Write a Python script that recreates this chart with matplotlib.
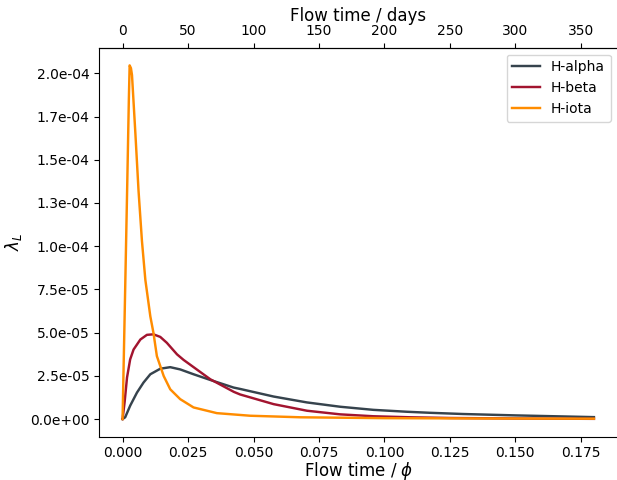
import numpy as np
import matplotlib
matplotlib.use('Agg')
import matplotlib.pyplot as plt
from matplotlib.ticker import FormatStrFormatter, MultipleLocator

# flow time (phi) and lambda_L values
phi_alpha = [0.0, 0.001, 0.0029, 0.0055, 0.008, 0.0106, 0.0144, 0.0182, 0.022, 0.0271,
             0.0335, 0.0424, 0.0449, 0.0577, 0.0704, 0.0831, 0.0958, 0.1086, 0.1174,
             0.13, 0.15, 0.165, 0.18]
lam_alpha = [0.0, 1.0e-6, 7.7e-6, 1.53e-5, 2.11e-5, 2.59e-5, 2.91e-5, 3.0e-5, 2.87e-5, 2.59e-5,
             2.26e-5, 1.82e-5, 1.74e-5, 1.30e-5, 9.6e-6, 7.1e-6, 5.3e-6, 4.2e-6, 3.6e-6,
             2.9e-6, 2.1e-6, 1.6e-6, 1.1e-6]

phi_beta = [0.0, 0.0008, 0.0017, 0.0029, 0.0042, 0.0068, 0.0093, 0.0118, 0.0144, 0.0169,
            0.0208, 0.0233, 0.0335, 0.0425, 0.0449, 0.0577, 0.0704, 0.0831, 0.0958,
            0.11, 0.125, 0.15, 0.18]
lam_beta = [0.0, 1.0e-5, 2.4e-5, 3.45e-5, 4.02e-5, 4.6e-5, 4.87e-5, 4.9e-5, 4.75e-5, 4.41e-5,
            3.74e-5, 3.42e-5, 2.3e-5, 1.57e-5, 1.42e-5, 8.6e-6, 4.8e-6, 2.7e-6, 1.6e-6,
            1.0e-6, 6e-7, 3e-7, 1e-7]

phi_iota = [0.0, 0.0009, 0.0018, 0.0024, 0.0027, 0.0032, 0.0036, 0.0049, 0.0061, 0.0074,
            0.0087, 0.0106, 0.0118, 0.0131, 0.0157, 0.0182, 0.022, 0.0271, 0.036,
            0.0487, 0.068, 0.1, 0.14, 0.18]
lam_iota = [0.0, 6.8e-5, 1.37e-4, 1.85e-4, 2.046e-4, 2.03e-4, 1.99e-4, 1.65e-4, 1.32e-4, 1.03e-4,
            8.05e-5, 5.94e-5, 4.98e-5, 3.64e-5, 2.49e-5, 1.72e-5, 1.15e-5, 6.7e-6, 3.4e-6,
            1.9e-6, 1.0e-6, 5e-7, 3e-7, 2e-7]

days_per_phi = 2000.0

fig = plt.figure(figsize=(6.17, 4.8), dpi=100)
ax = fig.add_axes([99 / 617, 43.3 / 480, 518.5 / 617, 389 / 480])
ax.plot(phi_alpha, lam_alpha, color='#36434d', lw=1.75, label='H-alpha')
ax.plot(phi_beta, lam_beta, color='#a2142f', lw=1.75, label='H-beta')
ax.plot(phi_iota, lam_iota, color='#ff8c00', lw=1.75, label='H-iota')

ax.yaxis.set_major_locator(MultipleLocator(2.5e-5))
ax.yaxis.set_major_formatter(FormatStrFormatter('%.1e'))
ax.set_xlabel(r'Flow time / $\phi$', size=12, labelpad=0)
ax.set_ylabel(r'$\lambda_L$', size=12)
ax.spines['right'].set_visible(False)
ax.legend(loc='upper right')

top = ax.secondary_xaxis('top', functions=(lambda x: x * days_per_phi,
                                           lambda d: d / days_per_phi))
top.set_xlabel('Flow time / days', size=12, labelpad=2)

fig.savefig('out.png', dpi=100)
